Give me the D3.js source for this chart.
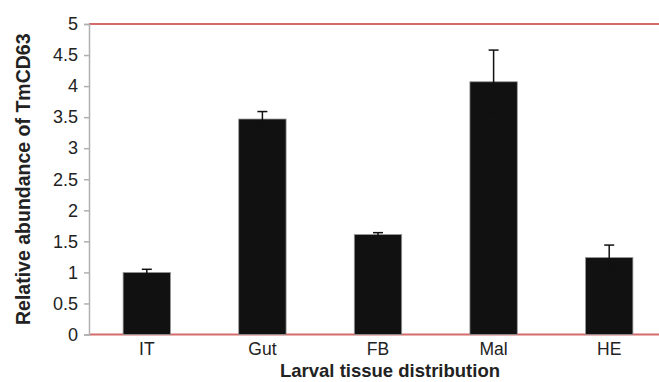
<!DOCTYPE html>
<html>
<head>
<meta charset="utf-8">
<script src="https://cdn.jsdelivr.net/npm/d3@7"></script>
<style>
  body { margin: 0; background: #fff; }
  svg { display: block; font-family: Arial, 'Liberation Sans', sans-serif; }
</style>
</head>
<body>
<svg width="659" height="382"></svg>
<script>
const tissues = ['IT', 'Gut', 'FB', 'Mal', 'HE'];
const abundance = [1.0, 3.47, 1.61, 4.07, 1.24];
const errors = [0.05, 0.12, 0.03, 0.51, 0.2];
const yTicks = [0, 0.5, 1, 1.5, 2, 2.5, 3, 3.5, 4, 4.5, 5];

const data = tissues.map((t, i) => ({ tissue: t, value: abundance[i], err: errors[i] }));

const svg = d3.select('svg');
const plotLeft = 89;
const plotRight = 667;
const plotTop = 24;
const plotBottom = 334.5;

const x = d3.scaleBand()
  .domain(tissues)
  .range([plotLeft, plotRight])
  .paddingInner(0.59)
  .paddingOuter(0.295);
const y = d3.scaleLinear().domain([0, 5]).range([plotBottom, plotTop]);

// red lines at the top and bottom of the plot
svg.append('g')
  .selectAll('line')
  .data([0, 5])
  .join('line')
  .attr('x1', plotLeft)
  .attr('x2', plotRight)
  .attr('y1', d => y(d))
  .attr('y2', d => y(d))
  .attr('stroke', '#d46a6a')
  .attr('stroke-width', 2);

// y axis
const yAxis = svg.append('g')
  .attr('transform', `translate(${plotLeft},0)`)
  .call(d3.axisLeft(y).tickValues(yTicks).tickFormat(d3.format('')).tickSize(5).tickPadding(6));
yAxis.select('.domain').attr('stroke', '#b0b0b0').attr('stroke-width', 1.5);
yAxis.selectAll('.tick line').attr('stroke', '#b0b0b0').attr('stroke-width', 1.5);
yAxis.selectAll('.tick text')
  .attr('font-size', 18)
  .attr('font-family', 'Arial, Liberation Sans, sans-serif')
  .attr('fill', '#222');

// bars
svg.append('g')
  .selectAll('rect')
  .data(data)
  .join('rect')
  .attr('x', d => x(d.tissue))
  .attr('y', d => y(d.value))
  .attr('width', x.bandwidth())
  .attr('height', d => y(0) - y(d.value))
  .attr('fill', '#111')
  .attr('stroke', '#999')
  .attr('stroke-width', 0.8);

// error bars
const eb = svg.append('g')
  .selectAll('g')
  .data(data)
  .join('g')
  .attr('stroke', '#111')
  .attr('stroke-width', 1.5);
const cx = d => x(d.tissue) + x.bandwidth() / 2;
eb.append('line')
  .attr('x1', cx).attr('x2', cx)
  .attr('y1', d => y(d.value + d.err))
  .attr('y2', d => y(d.value - d.err));
eb.append('line')
  .attr('x1', d => cx(d) - 5).attr('x2', d => cx(d) + 5)
  .attr('y1', d => y(d.value + d.err))
  .attr('y2', d => y(d.value + d.err));
eb.append('line')
  .attr('x1', d => cx(d) - 5).attr('x2', d => cx(d) + 5)
  .attr('y1', d => y(d.value - d.err))
  .attr('y2', d => y(d.value - d.err));

// category labels
svg.append('g')
  .selectAll('text')
  .data(tissues)
  .join('text')
  .attr('x', d => x(d) + x.bandwidth() / 2)
  .attr('y', 355)
  .attr('text-anchor', 'middle')
  .attr('font-size', 17.5)
  .attr('fill', '#222')
  .text(d => d);

// axis titles
svg.append('text')
  .attr('x', 390)
  .attr('y', 377)
  .attr('text-anchor', 'middle')
  .attr('font-size', 18.5)
  .attr('font-weight', 'bold')
  .attr('fill', '#222')
  .text('Larval tissue distribution');

svg.append('text')
  .attr('transform', `translate(30,${(plotTop + plotBottom) / 2}) rotate(-90)`)
  .attr('text-anchor', 'middle')
  .attr('font-size', 19.5)
  .attr('font-weight', 'bold')
  .attr('fill', '#222')
  .text('Relative abundance of TmCD63');
</script>
</body>
</html>
